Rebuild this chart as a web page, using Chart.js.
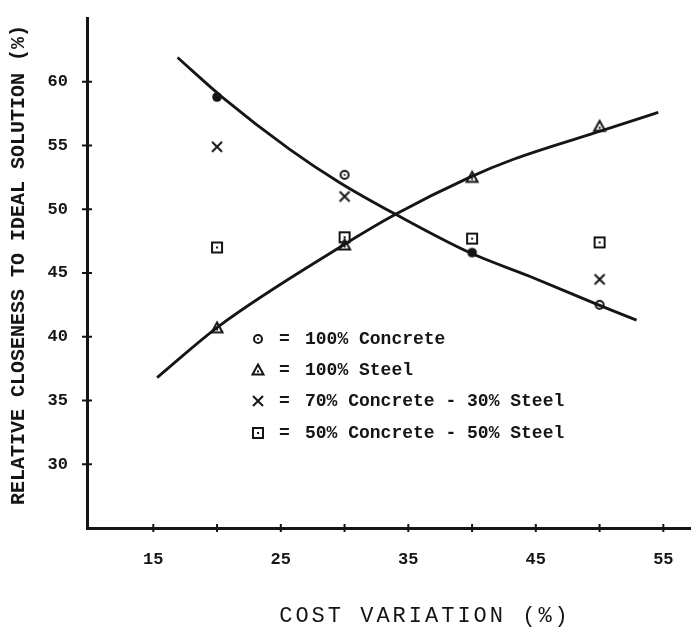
<!DOCTYPE html>
<html>
<head>
<meta charset="utf-8">
<script src="https://cdn.jsdelivr.net/npm/chart.js@4.4.1/dist/chart.umd.min.js"></script>
<style>
  html, body { margin: 0; padding: 0; background: #fff; }
  #wrap { width: 691px; height: 628px; }
</style>
</head>
<body>
<div id="wrap"><canvas id="closenessChart" width="691" height="628"></canvas></div>
<script>
// measured points, one value per cost variation
const costVariation = [20, 30, 40, 50];
const concrete100 = [58.8, 52.7, 46.6, 42.5];
const steel100 = [40.7, 47.2, 52.5, 56.5];
const concrete70steel30 = [54.9, 51.0, null, 44.5];
const concrete50steel50 = [47.0, 47.8, 47.7, 47.4];

// hand-fitted trend lines through the pure concrete and pure steel results
const concreteFitX = [16.9, 20.4, 25.7, 29.6, 34.0, 39.8, 44.6, 49.9, 52.9];
const concreteFitY = [61.9, 58.8, 54.7, 52.1, 49.6, 46.6, 44.7, 42.5, 41.3];
const steelFitX = [15.3, 20.1, 29.6, 34.0, 39.8, 43.2, 50.3, 54.6];
const steelFitY = [36.8, 40.8, 47.0, 49.6, 52.5, 53.9, 56.2, 57.6];

const xTicks = [15, 20, 25, 30, 35, 40, 45, 50, 55];
const xTickLabels = [15, 25, 35, 45, 55];
const yTicks = [30, 35, 40, 45, 50, 55, 60];

const legendLabels = [
  '100% Concrete',
  '100% Steel',
  '70% Concrete - 30% Steel',
  '50% Concrete - 50% Steel'
];
const xTitle = 'COST VARIATION (%)';
const yTitle = 'RELATIVE CLOSENESS TO IDEAL SOLUTION (%)';

const INK = '#151515';
const MONO = '"Liberation Mono", "DejaVu Sans Mono", monospace';

function toPoints(xs, ys) {
  return xs.map((x, i) => ({ x: x, y: ys[i] }));
}

// small typewriter-like symbols, drawn once and reused as point styles
function marker(kind, filled) {
  const c = document.createElement('canvas');
  c.width = 16;
  c.height = 16;
  const g = c.getContext('2d');
  g.strokeStyle = INK;
  g.fillStyle = INK;
  g.lineWidth = 2;
  if (kind === 'circle') {
    g.beginPath();
    g.arc(8, 8, filled ? 4.8 : 4, 0, Math.PI * 2);
    if (filled) g.fill(); else g.stroke();
    g.beginPath();
    g.arc(8, 8, 1, 0, Math.PI * 2);
    g.fill();
  } else if (kind === 'triangle') {
    g.beginPath();
    g.moveTo(8, 2.5);
    g.lineTo(13.5, 12.5);
    g.lineTo(2.5, 12.5);
    g.closePath();
    g.stroke();
    g.fillRect(7, 8.5, 2, 2);
  } else if (kind === 'cross') {
    g.beginPath();
    g.moveTo(3, 3);
    g.lineTo(13, 13);
    g.moveTo(13, 3);
    g.lineTo(3, 13);
    g.stroke();
  } else {
    g.strokeRect(3, 3, 10, 10);
    g.fillRect(7, 7, 2, 2);
  }
  return c;
}

const circleMark = marker('circle', false);
const circleSolid = marker('circle', true);
const triangleMark = marker('triangle');
const crossMark = marker('cross');
const squareMark = marker('square');
const legendMarks = [circleMark, triangleMark, crossMark, squareMark];

// axis titles, the key inside the plot, and the short tick marks crossing both axes
const annotations = {
  id: 'annotations',
  afterDraw(chart) {
    const ctx = chart.ctx;
    const area = chart.chartArea;
    const xs = chart.scales.x;
    const ys = chart.scales.y;
    ctx.save();
    ctx.strokeStyle = INK;
    ctx.lineWidth = 2;
    ctx.beginPath();
    xTicks.forEach(v => {
      const px = xs.getPixelForValue(v);
      ctx.moveTo(px, area.bottom - 4);
      ctx.lineTo(px, area.bottom + 4);
    });
    yTicks.forEach(v => {
      const py = ys.getPixelForValue(v);
      ctx.moveTo(area.left - 5, py);
      ctx.lineTo(area.left + 5, py);
    });
    ctx.stroke();

    ctx.fillStyle = INK;
    ctx.textBaseline = 'middle';

    ctx.font = '22px ' + MONO;
    ctx.textAlign = 'center';
    ctx.letterSpacing = '3px';
    ctx.fillText(xTitle, 425, 616);
    ctx.letterSpacing = '0px';

    ctx.save();
    ctx.translate(19, 265);
    ctx.rotate(-Math.PI / 2);
    ctx.font = 'bold 20px ' + MONO;
    ctx.fillText(yTitle, 0, 0);
    ctx.restore();

    const rows = [339, 370, 401, 433];
    ctx.textAlign = 'left';
    legendLabels.forEach((label, i) => {
      const m = legendMarks[i];
      ctx.drawImage(m, 258 - m.width / 2, rows[i] - m.height / 2);
      ctx.font = 'bold 18px ' + MONO;
      ctx.fillText('=', 279, rows[i]);
      ctx.fillText(label, 305, rows[i]);
    });
    ctx.restore();
  }
};

const curveStyle = {
  showLine: true,
  borderColor: INK,
  borderWidth: 2.8,
  pointRadius: 0,
  cubicInterpolationMode: 'monotone',
  order: 2
};

const markStyle = {
  showLine: false,
  pointRadius: 5,
  order: 1
};

new Chart(document.getElementById('closenessChart'), {
  type: 'scatter',
  data: {
    datasets: [
      Object.assign({ label: 'concrete fit', data: toPoints(concreteFitX, concreteFitY) }, curveStyle),
      Object.assign({ label: 'steel fit', data: toPoints(steelFitX, steelFitY) }, curveStyle),
      Object.assign({
        label: legendLabels[0],
        data: toPoints(costVariation, concrete100),
        pointStyle: [circleSolid, circleMark, circleSolid, circleMark]
      }, markStyle),
      Object.assign({
        label: legendLabels[1],
        data: toPoints(costVariation, steel100),
        pointStyle: triangleMark
      }, markStyle),
      Object.assign({
        label: legendLabels[2],
        data: toPoints(costVariation, concrete70steel30),
        pointStyle: crossMark
      }, markStyle),
      Object.assign({
        label: legendLabels[3],
        data: toPoints(costVariation, concrete50steel50),
        pointStyle: squareMark
      }, markStyle)
    ]
  },
  options: {
    responsive: false,
    animation: false,
    layout: { autoPadding: false, padding: { top: 18, right: 0, bottom: 0, left: 0 } },
    plugins: {
      legend: { display: false },
      tooltip: { enabled: false }
    },
    scales: {
      x: {
        type: 'linear',
        min: 9.8,
        max: 57.17,
        afterBuildTicks: (scale) => {
          scale.ticks = xTicks.map(v => ({ value: v }));
        },
        afterFit: (scale) => {
          scale.height = 100;
          scale.paddingLeft = 0;
          scale.paddingRight = 0;
        },
        border: { color: INK, width: 3 },
        grid: { drawOnChartArea: false, drawTicks: false },
        ticks: {
          autoSkip: false,
          maxRotation: 0,
          padding: 22,
          color: INK,
          font: { family: MONO, size: 17, weight: 'bold' },
          callback: (v) => xTickLabels.includes(v) ? String(v) : ''
        }
      },
      y: {
        type: 'linear',
        min: 25,
        max: 65,
        afterBuildTicks: (scale) => {
          scale.ticks = yTicks.map(v => ({ value: v }));
        },
        afterFit: (scale) => {
          scale.width = 87;
          scale.paddingTop = 0;
          scale.paddingBottom = 0;
        },
        border: { color: INK, width: 3 },
        grid: { drawOnChartArea: false, drawTicks: false },
        ticks: {
          padding: 19,
          color: INK,
          font: { family: MONO, size: 17, weight: 'bold' }
        }
      }
    }
  },
  plugins: [annotations]
});
</script>
</body>
</html>
